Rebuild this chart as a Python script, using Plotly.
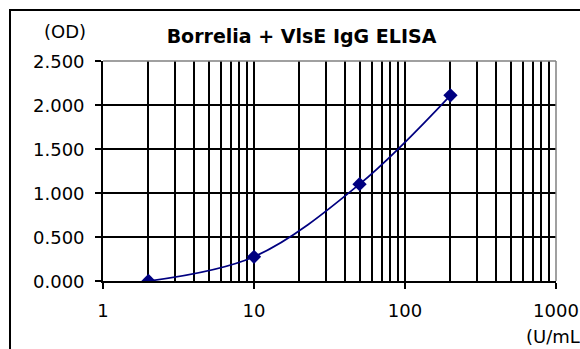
import plotly.graph_objects as go

conc = [2, 10, 50, 200]
od = [0.0, 0.275, 1.10, 2.11]
y_ticks = [0, 0.5, 1.0, 1.5, 2.0, 2.5]
y_labels = ["0.000", "0.500", "1.000", "1.500", "2.000", "2.500"]
x_ticks = [1, 10, 100, 1000]
x_labels = ["1", "10", "100", "1000"]
minor_vals = [m * d for d in (1, 10, 100) for m in range(2, 10)]

W, H = 580, 349
L, R, T, B = 103, 556, 61, 281

fig = go.Figure()
fig.add_trace(go.Scatter(
    x=conc, y=od, mode="lines+markers",
    line=dict(color="#000080", width=1.7, shape="spline", smoothing=1.0),
    marker=dict(symbol="diamond", size=11, color="#000080"),
    showlegend=False,
))

font = "DejaVu Sans, Arial, sans-serif"
fig.update_layout(
    width=W, height=H,
    margin=dict(l=L, r=W - R, t=T, b=H - B, pad=0),
    paper_bgcolor="white", plot_bgcolor="white",
    font=dict(family=font, size=18, color="black"),
    title=dict(text="<b>Borrelia + VlsE IgG ELISA</b>", x=(301.5) / W, xanchor="center",
               y=1 - 36 / H, yanchor="middle", font=dict(size=19, family=font)),
    xaxis=dict(type="log", range=[0, 3], tickvals=x_ticks, ticktext=x_labels,
               showgrid=True, gridcolor="black", gridwidth=1.5,
               ticks="outside", ticklen=6, tickcolor="black", tickwidth=1.5,
               showline=True, linecolor="black", linewidth=1.5,
               minor=dict(tickvals=minor_vals, showgrid=True, gridcolor="black",
                          gridwidth=1.5, ticks=""),
               ticklabelstandoff=7, zeroline=False, automargin=False),
    yaxis=dict(range=[0, 2.5], tickvals=y_ticks, showticklabels=False,
               showgrid=True, gridcolor="black", gridwidth=1.5,
               ticks="outside", ticklen=6, tickcolor="black", tickwidth=1.5,
               showline=True, linecolor="black", linewidth=1.5,
               zeroline=False, automargin=False),
)

def px(xp):
    return (xp - L) / (R - L)

def py(yp):
    return (B - yp) / (B - T)

# y tick labels placed with the y scale
for v, t in zip(y_ticks, y_labels):
    fig.add_annotation(text=t, xref="paper", yref="y", x=px(87), y=v,
                       xanchor="right", yanchor="middle", showarrow=False,
                       font=dict(size=18, family=font))

# gray top/right plot border
fig.add_shape(type="line", xref="paper", yref="paper", x0=0, x1=1, y0=1, y1=1,
              line=dict(color="#808080", width=1.5), layer="above")
fig.add_shape(type="line", xref="paper", yref="paper", x0=1, x1=1, y0=0, y1=1,
              line=dict(color="#808080", width=1.5), layer="above")
# outer chart border (left/top visible)
fig.add_shape(type="rect", xref="paper", yref="paper",
              x0=px(10), x1=px(W + 20), y0=py(H + 20), y1=py(10),
              line=dict(color="black", width=2), layer="above")

fig.add_annotation(text="(OD)", xref="paper", yref="paper", x=px(65), y=py(32),
                   xanchor="center", yanchor="middle", showarrow=False,
                   font=dict(size=18, family=font))
fig.add_annotation(text="(U/mL", xref="paper", yref="paper", x=px(524), y=py(336),
                   xanchor="left", yanchor="middle", showarrow=False,
                   font=dict(size=18, family=font))

fig.write_html("out.html", config={"displayModeBar": False},
               post_script="document.body.style.margin='0';")
